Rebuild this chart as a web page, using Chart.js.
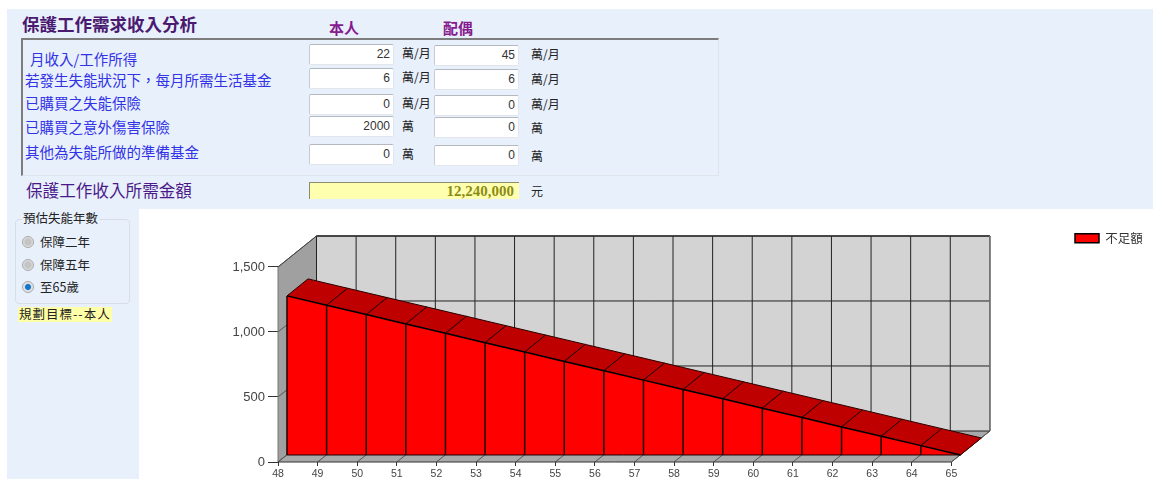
<!DOCTYPE html>
<html lang="zh-Hant">
<head>
<meta charset="utf-8">
<title>保護工作需求收入分析</title>
<style>
  html, body { margin: 0; padding: 0; background: #fff; width: 1153px; height: 479px; overflow: hidden; }
  body { position: relative; font-family: "Noto Sans CJK TC", sans-serif; }
  .abs { position: absolute; white-space: nowrap; line-height: 1; }
  #topPanel { position: absolute; left: 7px; top: 9px; width: 1146px; height: 200px; background: #e8f0fc; }
  #sidePanel { position: absolute; left: 7px; top: 209px; width: 132px; height: 270px; background: #e8f0fc; }
  #box { position: absolute; left: 21px; top: 38px; width: 695px; height: 135px;
         border-top: 2px solid #7d7d7d; border-left: 2px solid #7d7d7d;
         border-right: 1px solid #dfe3ea; border-bottom: 1px solid #dfe3ea; }
  .title { font-size: 17.5px; font-weight: 700; color: #4a1a70; }
  .who { font-size: 15px; font-weight: 700; color: #861a8e; }
  .lbl { font-size: 14.5px; color: #3232e6; }
  .unit { font-size: 12px; color: #222; }
  .inp { position: absolute; box-sizing: border-box; width: 85px; height: 21px; background: #fff;
         border: 1px solid #e2e6ec; border-top: 1px solid #b4b8bf; border-left: 1px solid #c8ccd2;
         font: 12px "Liberation Sans", sans-serif; color: #333; text-align: right;
         padding: 2px 3px 0 0; border-radius: 2px; }
  #need { position: absolute; box-sizing: border-box; left: 309px; top: 182px; width: 210px; height: 17px;
          background: #ffffb0; border-top: 1px solid #8c8c70; border-left: 1px solid #8c8c70;
          font: 700 15px "Liberation Serif", serif; color: #8c8c14; text-align: right; padding: 0 5px 0 0; }
  #group { position: absolute; box-sizing: border-box; left: 15px; top: 219px; width: 115px; height: 85px;
           border: 1px solid #d9dee6; border-radius: 4px; }
  #groupTitle { left: 22px; top: 212px; padding: 0 1px; font-size: 12.5px; color: #222; background: #e8f0fc; }
  .radio { position: absolute; left: 22px; width: 12px; height: 12px; border-radius: 50%; box-sizing: border-box;
           border: 1px solid #a8a8a8; background: radial-gradient(circle at 50% 50%, #c4c4c4 0 40%, #f0f0f0 85%); }
  .radio.on { background: radial-gradient(circle at 50% 50%, #0f76c8 0 35%, #d8dce2 50%, #f0f0f0 85%); }
  .rtxt { left: 40px; font-size: 12.5px; color: #222; }
  #target { left: 18px; top: 307px; padding: 1px; font-size: 12.5px; letter-spacing: 1px; color: #222; background: #ffffa8; }
  canvas { position: absolute; left: 0; top: 0; }
</style>
</head>
<body>
<div id="topPanel"></div>
<div id="sidePanel"></div>
<div id="box"></div>

<div class="abs title" style="left:22px;top:15px">保護工作需求收入分析</div>
<div class="abs who" style="left:329px;top:20px">本人</div>
<div class="abs who" style="left:443px;top:20px">配偶</div>

<div class="abs lbl" style="left:30px;top:52px">月收入/工作所得</div>
<div class="abs lbl" style="left:25px;top:73px">若發生失能狀況下，每月所需生活基金</div>
<div class="abs lbl" style="left:25px;top:96px">已購買之失能保險</div>
<div class="abs lbl" style="left:25px;top:120px">已購買之意外傷害保險</div>
<div class="abs lbl" style="left:25px;top:145px">其他為失能所做的準備基金</div>

<div id="fields"></div>

<div class="abs" style="left:26px;top:182px;font-size:16.6px;color:#4b1a8a;height:17px;overflow:hidden">保護工作收入所需金額</div>
<div id="need">12,240,000</div>
<div class="abs unit" style="left:531px;top:185px">元</div>

<div id="group"></div>
<div class="abs" id="groupTitle">預估失能年數</div>
<span class="radio" style="top:236px"></span><div class="abs rtxt" style="top:236px">保障二年</div>
<span class="radio" style="top:259px"></span><div class="abs rtxt" style="top:259px">保障五年</div>
<span class="radio on" style="top:281px"></span><div class="abs rtxt" style="top:281px">至65歲</div>
<div class="abs" id="target">規劃目標--本人</div>

<canvas id="chart" width="1153" height="479"></canvas>

<script src="https://cdn.jsdelivr.net/npm/chart.js@4"></script>
<script>
// Form values (萬 or 萬/月) for the insured and the spouse
const selfValues = ["22", "6", "0", "2000", "0"];
const spouseValues = ["45", "6", "0", "0", "0"];
const selfUnits = ["萬/月", "萬/月", "萬/月", "萬", "萬"];
const spouseUnits = ["萬/月", "萬/月", "萬/月", "萬", "萬"];
const selfTops = [44, 68, 94, 116, 144];
const spouseTops = [45, 69, 95, 117, 145];
const selfUnitTops = [47, 71, 97, 120, 148];
const spouseUnitTops = [48, 73, 98, 122, 150];

// Chart series: shortfall (萬) by age
const ages = [48, 49, 50, 51, 52, 53, 54, 55, 56, 57, 58, 59, 60, 61, 62, 63, 64, 65];
const shortfall = [1224, 1152, 1080, 1008, 936, 864, 792, 720, 648, 576, 504, 432, 360, 288, 216, 144, 72, 0];
const valueTicks = [0, 500, 1000, 1500];
const seriesName = "不足額";

const fields = document.getElementById("fields");
function addField(left, top, text) {
  const el = document.createElement("div");
  el.className = "inp";
  el.style.left = left + "px";
  el.style.top = top + "px";
  el.textContent = text;
  fields.appendChild(el);
}
function addUnit(left, top, text) {
  const el = document.createElement("div");
  el.className = "abs unit";
  el.style.left = left + "px";
  el.style.top = top + "px";
  el.textContent = text;
  fields.appendChild(el);
}
selfValues.forEach((v, i) => { addField(309, selfTops[i], v); addUnit(402, selfUnitTops[i], selfUnits[i]); });
spouseValues.forEach((v, i) => { addField(434, spouseTops[i], v); addUnit(531, spouseUnitTops[i], spouseUnits[i]); });

// Pseudo-3D box depth in pixels: walls sit behind the axes, the series slab in between
const WALL = { dx: 38.5, dy: -31 };
const SLAB = { dx: 21, dy: -17 };

function poly(ctx, pts, fill, stroke, width) {
  ctx.beginPath();
  pts.forEach((p, i) => (i ? ctx.lineTo(p[0], p[1]) : ctx.moveTo(p[0], p[1])));
  ctx.closePath();
  if (fill) { ctx.fillStyle = fill; ctx.fill(); }
  if (stroke) { ctx.strokeStyle = stroke; ctx.lineWidth = width || 1; ctx.stroke(); }
}
function seg(ctx, x1, y1, x2, y2, color, width) {
  ctx.beginPath();
  ctx.moveTo(x1, y1);
  ctx.lineTo(x2, y2);
  ctx.strokeStyle = color;
  ctx.lineWidth = width || 1;
  ctx.stroke();
}

const box3d = {
  id: "box3d",
  afterLayout(chart) {
    // Legend is placed freely in the upper right, outside the plot box
    const l = chart.legend;
    l.left = 1069; l.top = 226; l.right = 1153; l.bottom = 256;
  },
  beforeDatasetsDraw(chart) {
    const { ctx, scales } = chart;
    const x = scales.x, y = scales.y;
    const x0 = x.getPixelForValue(ages[0]);
    const x1 = x.getPixelForValue(ages[ages.length - 1]);
    const y0 = y.getPixelForValue(0);
    const yTop = y.getPixelForValue(valueTicks[valueTicks.length - 1]);
    const d = WALL;
    ctx.save();
    // back wall
    poly(ctx, [[x0 + d.dx, yTop + d.dy], [x1 + d.dx, yTop + d.dy], [x1 + d.dx, y0 + d.dy], [x0 + d.dx, y0 + d.dy]], "#d3d3d3");
    // left wall
    poly(ctx, [[x0, yTop], [x0 + d.dx, yTop + d.dy], [x0 + d.dx, y0 + d.dy], [x0, y0]], "#a0a0a0");
    // floor
    poly(ctx, [[x0, y0], [x1, y0], [x1 + d.dx, y0 + d.dy], [x0 + d.dx, y0 + d.dy]], "#a9a9a9");
    // wall grid, following each axis tick
    x.ticks.forEach(t => {
      const px = x.getPixelForValue(t.value);
      seg(ctx, px + d.dx, yTop + d.dy, px + d.dx, y0 + d.dy, "#222");
      seg(ctx, px, y0, px + d.dx, y0 + d.dy, "#555");
    });
    y.ticks.forEach(t => {
      const py = y.getPixelForValue(t.value);
      seg(ctx, x0 + d.dx, py + d.dy, x1 + d.dx, py + d.dy, "#222");
      seg(ctx, x0, py, x0 + d.dx, py + d.dy, "#555");
    });
    // box outline
    seg(ctx, x0, yTop, x0, y0, "#777");
    seg(ctx, x0, y0, x1, y0, "#333");
    seg(ctx, x0, yTop, x0 + d.dx, yTop + d.dy, "#444");
    seg(ctx, x0 + d.dx, yTop + d.dy, x1 + d.dx, yTop + d.dy, "#333", 1.5);
    seg(ctx, x1 + d.dx, yTop + d.dy, x1 + d.dx, y0 + d.dy, "#777", 1.5);
    seg(ctx, x1, y0, x1 + d.dx, y0 + d.dy, "#555");

    // top of the slab: one dark parallelogram per interval, from the plotted points
    const pts = chart.getDatasetMeta(0).data;
    for (let i = 0; i < pts.length - 1; i++) {
      const a = pts[i], b = pts[i + 1];
      poly(ctx, [[a.x, a.y], [b.x, b.y], [b.x + SLAB.dx, b.y + SLAB.dy], [a.x + SLAB.dx, a.y + SLAB.dy]],
        "#bf0000", "#2a0000", 1);
    }
    ctx.restore();
  },
  afterDatasetsDraw(chart) {
    // separators on the front face, from each point down to the baseline
    const { ctx, scales } = chart;
    const base = scales.y2.getPixelForValue(0);
    const pts = chart.getDatasetMeta(0).data;
    ctx.save();
    pts.forEach(p => seg(ctx, p.x, p.y, p.x, base, "#1a0000", 1.5));
    seg(ctx, pts[0].x, base, pts[pts.length - 1].x, base, "#1a0000", 1);
    ctx.restore();
  }
};

new Chart(document.getElementById("chart"), {
  type: "line",
  data: {
    datasets: [{
      label: seriesName,
      data: ages.map((a, i) => ({ x: a, y: shortfall[i] })),
      xAxisID: "x2",
      yAxisID: "y2",
      borderColor: "#000",
      borderWidth: 1.5,
      backgroundColor: "#ff0000",
      fill: "origin",
      tension: 0,
      pointRadius: 0,
      clip: false
    }]
  },
  plugins: [box3d],
  options: {
    responsive: false,
    animation: false,
    events: [],
    layout: { padding: { left: 212, top: 236, right: 162, bottom: 0 } },
    plugins: {
      tooltip: { enabled: false },
      legend: {
        position: "chartArea",
        align: "start",
        labels: {
          boxWidth: 24, boxHeight: 9, padding: 6,
          color: "#333",
          font: { family: '"Noto Sans CJK TC", sans-serif', size: 12.5 }
        }
      }
    },
    scales: {
      x: {
        type: "linear", position: "bottom",
        min: 48, max: 66,
        afterFit(s) { s.height = 17; },
        afterBuildTicks(s) { s.ticks = ages.map(value => ({ value })); },
        border: { display: false },
        grid: { drawOnChartArea: false, drawTicks: true, tickLength: 4, color: "#333" },
        ticks: {
          autoSkip: false, maxRotation: 0, padding: 2,
          color: "#444", font: { family: '"Liberation Sans", sans-serif', size: 10.5 },
          callback: v => String(v)
        }
      },
      y: {
        type: "linear", position: "left",
        min: 0, max: 1738.46,
        afterFit(s) { s.width = 66; },
        afterBuildTicks(s) { s.ticks = valueTicks.map(value => ({ value })); },
        border: { display: false },
        grid: { drawOnChartArea: false, drawTicks: true, tickLength: 10, color: "#333" },
        ticks: {
          padding: 3,
          color: "#444", font: { family: '"Liberation Sans", sans-serif', size: 13 },
          callback: v => v.toLocaleString("en-US")
        }
      },
      // hidden scales that push the series forward from the rear walls
      x2: { type: "linear", display: false, min: 47.773, max: 65.773 },
      y2: { type: "linear", display: false, min: -53.85, max: 1684.61 }
    }
  }
});
</script>
</body>
</html>
